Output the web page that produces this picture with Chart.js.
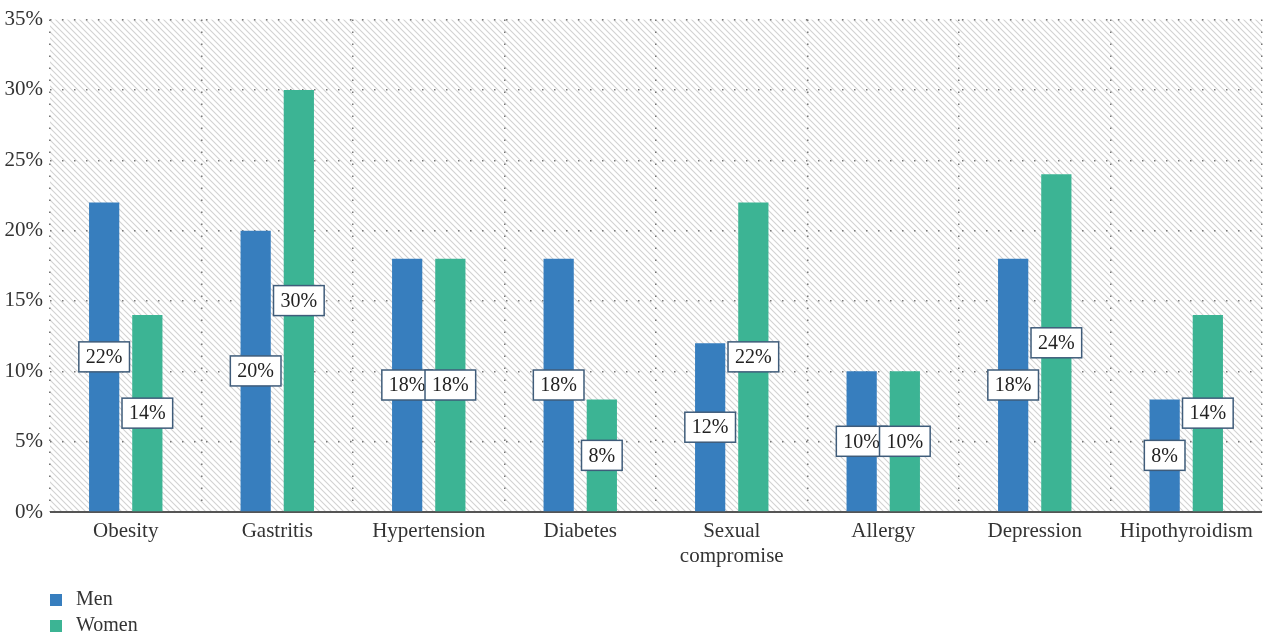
<!DOCTYPE html>
<html>
<head>
<meta charset="utf-8">
<script src="https://cdn.jsdelivr.net/npm/chart.js@4"></script>
<style>
  html, body { margin: 0; padding: 0; background: #fff; }
  #wrap { position: relative; width: 1271px; height: 635px; }
  #legend { position: absolute; left: 50px; top: 585px; font-family: "Liberation Serif", serif; font-size: 20px; color: #333; }
  #legend div { height: 26px; line-height: 26px; }
  #legend span.sw { display: inline-block; width: 12px; height: 12px; margin-right: 14px; vertical-align: -1px; }
</style>
</head>
<body>
<div id="wrap">
  <canvas id="chart" width="1271" height="635"></canvas>
  <div id="legend"></div>
</div>
<script>
const categories = ['Obesity', 'Gastritis', 'Hypertension', 'Diabetes', ['Sexual', 'compromise'], 'Allergy', 'Depression', 'Hipothyroidism'];
const menValues = [22, 20, 18, 18, 12, 10, 18, 8];
const womenValues = [14, 30, 18, 8, 22, 10, 24, 14];
const yTicks = [0, 5, 10, 15, 20, 25, 30, 35];

const menColor = '#377ebe';
const womenColor = '#3cb494';
const serif = '"Liberation Serif", "DejaVu Serif", serif';

function hatchPattern(ctx) {
    const n = 6;
    const c = document.createElement('canvas');
    c.width = n; c.height = n;
    const p = c.getContext('2d');
    p.fillStyle = '#fff';
    p.fillRect(0, 0, n, n);
    p.strokeStyle = '#d2d2d2';
    p.lineWidth = 1.1;
    p.beginPath();
    p.moveTo(-1, -1); p.lineTo(n + 1, n + 1);
    p.moveTo(-1, n - 1); p.lineTo(1, n + 1);
    p.moveTo(n - 1, -1); p.lineTo(n + 1, 1);
    p.stroke();
    return ctx.createPattern(c, 'repeat');
}

// hatched background behind the plot area
const hatchBg = {
    id: 'hatchBg',
    beforeDraw(chart) {
        const { ctx, chartArea: a } = chart;
        ctx.save();
        ctx.fillStyle = hatchPattern(ctx);
        ctx.fillRect(a.left, a.top, a.right - a.left, a.bottom - a.top);
        ctx.restore();
    }
};

// boxed value labels in the middle of each bar
const boxLabels = {
    id: 'boxLabels',
    afterDatasetsDraw(chart) {
        const ctx = chart.ctx;
        ctx.save();
        ctx.font = '20px ' + serif;
        ctx.textAlign = 'center';
        ctx.textBaseline = 'middle';
        chart.data.datasets.forEach((ds, i) => {
            chart.getDatasetMeta(i).data.forEach((bar, j) => {
                const txt = ds.data[j] + '%';
                const w = ctx.measureText(txt).width + 14;
                const h = 30;
                const cx = bar.x;
                const cy = (bar.y + bar.base) / 2;
                ctx.fillStyle = '#fff';
                ctx.fillRect(cx - w / 2, cy - h / 2, w, h);
                ctx.strokeStyle = '#3f5c7a';
                ctx.lineWidth = 1.5;
                ctx.strokeRect(cx - w / 2, cy - h / 2, w, h);
                ctx.fillStyle = '#222';
                ctx.fillText(txt, cx, cy + 1);
            });
        });
        ctx.restore();
    }
};

new Chart(document.getElementById('chart').getContext('2d'), {
    type: 'bar',
    data: {
        labels: categories,
        datasets: [
            { label: 'Men', data: menValues, backgroundColor: menColor },
            { label: 'Women', data: womenValues, backgroundColor: womenColor }
        ]
    },
    options: {
        responsive: false,
        animation: false,
        layout: { padding: { top: 18, right: 9, left: 0, bottom: 0 } },
        datasets: { bar: { categoryPercentage: 0.57, barPercentage: 0.7 } },
        plugins: { legend: { display: false }, tooltip: { enabled: false } },
        scales: {
            x: {
                grid: { offset: true, color: '#777', lineWidth: 1.5, drawTicks: false },
                border: { display: false, dash: [1.5, 10.5] },
                ticks: { color: '#333', font: { family: serif, size: 21, lineHeight: 1.2 }, padding: 7, maxRotation: 0, autoSkip: false },
                afterFit(s) { s.height = 123; }
            },
            y: {
                min: 0, max: 35,
                afterBuildTicks(s) { s.ticks = yTicks.map(v => ({ value: v })); },
                grid: { color: '#777', lineWidth: 1.5, drawTicks: false },
                border: { display: false, dash: [1.5, 10.5] },
                ticks: { color: '#333', font: { family: serif, size: 21 }, padding: 7, callback: v => v + '%' },
                afterFit(s) { s.width = 50; }
            }
        }
    },
    plugins: [hatchBg, boxLabels, {
        // solid baseline along the x axis
        id: 'baseline',
        beforeDatasetsDraw(chart) {
            const { ctx, chartArea: a } = chart;
            ctx.save();
            ctx.strokeStyle = '#555';
            ctx.lineWidth = 2;
            ctx.beginPath();
            ctx.moveTo(a.left, a.bottom);
            ctx.lineTo(a.right, a.bottom);
            ctx.stroke();
            ctx.restore();
        }
    }]
});

document.getElementById('legend').innerHTML =
    [['Men', menColor], ['Women', womenColor]]
        .map(([n, c]) => '<div><span class="sw" style="background:' + c + '"></span>' + n + '</div>').join('');
</script>
</body>
</html>
